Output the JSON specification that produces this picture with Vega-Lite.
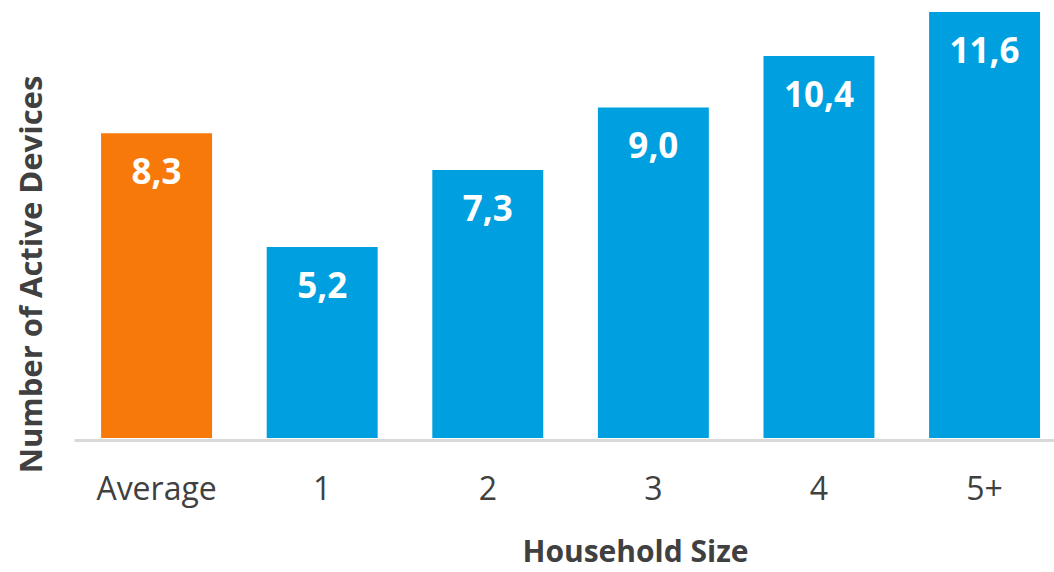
{
  "$schema": "https://vega.github.io/schema/vega-lite/v6.json",
  "width": 980,
  "height": 426,
  "autosize": "none",
  "padding": {"left": 74, "top": 12, "right": 0, "bottom": 134},
  "background": "white",
  "data": {"values": [
    {"size": "Average", "devices": 8.3, "label": "8,3", "kind": "avg"},
    {"size": "1", "devices": 5.2, "label": "5,2", "kind": "hh"},
    {"size": "2", "devices": 7.3, "label": "7,3", "kind": "hh"},
    {"size": "3", "devices": 9.0, "label": "9,0", "kind": "hh"},
    {"size": "4", "devices": 10.4, "label": "10,4", "kind": "hh"},
    {"size": "5+", "devices": 11.6, "label": "11,6", "kind": "hh"}
  ]},
  "config": {"view": {"stroke": null}, "font": "Open Sans"},
  "encoding": {
    "x": {"field": "size", "type": "nominal", "sort": null,
      "scale": {"paddingInner": 0.33, "paddingOuter": 0.124, "align": 0.66},
      "axis": {"title": "Household Size", "labelAngle": 0, "ticks": false, "domainColor": "#d9d9d9", "domainWidth": 3, "offset": 2,
        "labelFont": "Open Sans", "labelFontSize": 32, "labelColor": "#404040", "labelPadding": 34,
        "titleFont": "Open Sans", "titleFontSize": 30, "titleFontWeight": "bold", "titleColor": "#404040",
        "titleX": 561, "titleY": 112, "titleBaseline": "middle", "titleAnchor": "middle"}},
    "y": {"field": "devices", "type": "quantitative", "scale": {"domain": [0, 11.6], "nice": false},
      "axis": {"title": "Number of Active Devices", "labels": false, "ticks": false, "domain": false, "grid": false,
        "titleFont": "Open Sans", "titleFontSize": 31, "titleFontWeight": "bold", "titleColor": "#404040",
        "titleX": -42, "titleY": 262, "titleBaseline": "middle", "titleAngle": -90, "titleAnchor": "middle"}}
  },
  "layer": [
    {"mark": {"type": "bar"},
     "encoding": {"color": {"field": "kind", "type": "nominal", "scale": {"domain": ["avg", "hh"], "range": ["#F7790A", "#00A0E0"]}, "legend": null}}},
    {"mark": {"type": "text", "baseline": "middle", "dy": 40, "color": "white", "fontWeight": "bold", "fontSize": 35, "font": "Open Sans"},
     "encoding": {"text": {"field": "label"}}}
  ]
}
